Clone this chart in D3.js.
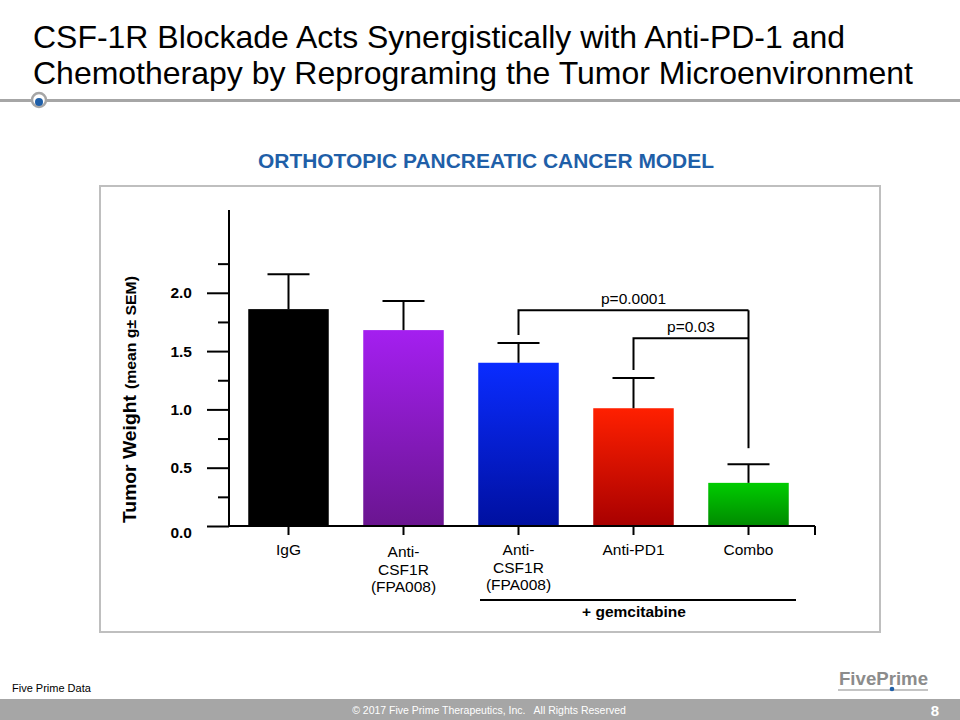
<!DOCTYPE html>
<html><head><meta charset="utf-8">
<script src="https://cdn.jsdelivr.net/npm/d3@7"></script>
<style>body{margin:0;background:#fff}svg{display:block;font-family:"Liberation Sans",Arial,sans-serif}</style>
</head><body><svg id="c" width="960" height="720"></svg>
<script>
const categories = ["IgG","Anti-CSF1R (FPA008)","Anti-CSF1R (FPA008) + gem","Anti-PD1","Combo"];
const labelLines = [["IgG"],["Anti-","CSF1R","(FPA008)"],["Anti-","CSF1R","(FPA008)"],["Anti-PD1"],["Combo"]];
const means = [1.86, 1.68, 1.40, 1.01, 0.37];
const sems = [0.30, 0.25, 0.17, 0.26, 0.16];
const topColors = ["#000000","#a41ff0","#0a2cff","#ff2000","#00cc00"];
const bottomColors = ["#000000","#6a1590","#0010a0","#a80000","#008a00"];
const yTicks = [0.0, 0.5, 1.0, 1.5, 2.0];
const yMinor = [0.25, 0.75, 1.25, 1.75, 2.25];
const comparisons = [{from:2,to:4,label:"p=0.0001",y:1.85},{from:3,to:4,label:"p=0.03",y:1.61}];

const FF = "Liberation Sans, Arial, sans-serif";
const svg = d3.select("#c");
// Title
svg.append("text").attr("x",33).attr("y",48).attr("font-size",31.5).attr("fill","#000").attr("textLength",812).attr("lengthAdjust","spacingAndGlyphs").text("CSF-1R Blockade Acts Synergistically with Anti-PD-1 and");
svg.append("text").attr("x",33).attr("y",84).attr("font-size",31.5).attr("fill","#000").attr("textLength",880).attr("lengthAdjust","spacingAndGlyphs").text("Chemotherapy by Reprograming the Tumor Microenvironment");
svg.append("rect").attr("x",0).attr("y",99).attr("width",960).attr("height",3).attr("fill","#a6a6a6");
svg.append("circle").attr("cx",39).attr("cy",100).attr("r",7).attr("fill","#fff").attr("stroke","#a6a6a6").attr("stroke-width",2.5);
svg.append("circle").attr("cx",39).attr("cy",102).attr("r",4).attr("fill","#1f5fa8");

// subtitle
svg.append("text").attr("x",486).attr("y",168).attr("text-anchor","middle").attr("font-size",20.5).attr("font-weight","bold").attr("fill","#1f5fa8").attr("textLength",456).attr("lengthAdjust","spacingAndGlyphs").text("ORTHOTOPIC PANCREATIC CANCER MODEL");

// frame
svg.append("rect").attr("x",100).attr("y",186).attr("width",780).attr("height",446).attr("fill","none").attr("stroke","#bfbfbf").attr("stroke-width",2);

const x = d3.scaleBand().domain(categories).range([231,806]).paddingInner(0.3).paddingOuter(0.15);
const y = d3.scaleLinear().domain([0,2.71]).range([526,210]);

// gradients
const defs = svg.append("defs");
categories.forEach((c,i)=>{
  const g = defs.append("linearGradient").attr("id","g"+i).attr("x1",0).attr("y1",0).attr("x2",0).attr("y2",1);
  g.append("stop").attr("offset","0%").attr("stop-color",topColors[i]);
  g.append("stop").attr("offset","100%").attr("stop-color",bottomColors[i]);
});

// bars
svg.selectAll("rect.bar").data(categories).join("rect").attr("class","bar")
  .attr("x",d=>x(d)).attr("width",x.bandwidth())
  .attr("y",(d,i)=>y(means[i])).attr("height",(d,i)=>y(0)-y(means[i]))
  .attr("fill",(d,i)=>"url(#g"+i+")");

// error bars
const eb = svg.append("g").attr("stroke","#000").attr("stroke-width",2);
categories.forEach((c,i)=>{
  const cx = x(c)+x.bandwidth()/2;
  eb.append("line").attr("x1",cx).attr("x2",cx).attr("y1",y(means[i])).attr("y2",y(means[i]+sems[i]));
  eb.append("line").attr("x1",cx-21).attr("x2",cx+21).attr("y1",y(means[i]+sems[i])).attr("y2",y(means[i]+sems[i]));
});

// y axis
const yAxis = d3.axisLeft(y).tickValues(yTicks).tickFormat(d3.format(".1f")).tickSize(22).tickPadding(15);
const ga = svg.append("g").attr("transform","translate(229,0)").call(yAxis);
ga.select(".domain").remove();
ga.selectAll(".tick line").attr("stroke","#000").attr("stroke-width",2);
ga.selectAll(".tick text").attr("font-size",15.5).attr("font-weight","bold").attr("fill","#000").attr("font-family",FF);
ga.selectAll(".tick").filter(d=>d===0).select("text").attr("dy","0.75em");
const gm = svg.append("g").attr("transform","translate(229,0)").call(d3.axisLeft(y).tickValues(yMinor).tickSize(11).tickFormat(""));
gm.select(".domain").remove();
gm.selectAll(".tick line").attr("stroke","#000").attr("stroke-width",2);
svg.append("line").attr("x1",229).attr("x2",229).attr("y1",210).attr("y2",527).attr("stroke","#000").attr("stroke-width",2);

// x axis
svg.append("line").attr("x1",228).attr("x2",815).attr("y1",526).attr("y2",526).attr("stroke","#000").attr("stroke-width",2);
svg.append("line").attr("x1",815).attr("x2",815).attr("y1",526).attr("y2",535).attr("stroke","#000").attr("stroke-width",2);
categories.forEach((c,i)=>{
  const cx = x(c)+x.bandwidth()/2;
  svg.append("line").attr("x1",cx).attr("x2",cx).attr("y1",526).attr("y2",535).attr("stroke","#000").attr("stroke-width",2);
  const base = i===1 ? 557 : 555;
  labelLines[i].forEach((t,j)=>{
    svg.append("text").attr("x",cx).attr("y",base+j*17.5).attr("text-anchor","middle").attr("font-size",15.5).attr("fill","#000").text(t);
  });
});

// y axis label
svg.append("text").attr("transform","translate(136,523) rotate(-90)").attr("font-weight","bold").attr("font-size",18).attr("fill","#000")
  .attr("textLength",128).attr("lengthAdjust","spacingAndGlyphs").text("Tumor Weight");
svg.append("text").attr("transform","translate(136,389) rotate(-90)").attr("font-weight","bold").attr("font-size",14).attr("fill","#000")
  .attr("textLength",113).attr("lengthAdjust","spacingAndGlyphs").text("(mean g± SEM)");

// significance brackets
const br = svg.append("g").attr("stroke","#000").attr("stroke-width",2).attr("fill","none");
comparisons.forEach(cmp=>{
  const x1 = x(categories[cmp.from])+x.bandwidth()/2;
  const x2 = x(categories[cmp.to])+x.bandwidth()/2;
  const yTop = y(cmp.y);
  const y1 = y(means[cmp.from]+sems[cmp.from]) - 8;
  br.append("path").attr("d",`M${x1},${y1}V${yTop}H${x2}`);
  svg.append("text").attr("x",(x1+x2)/2).attr("y",yTop-6).attr("text-anchor","middle").attr("font-size",15.5).attr("fill","#000").text(cmp.label);
});
br.append("line").attr("x1",x(categories[4])+x.bandwidth()/2).attr("x2",x(categories[4])+x.bandwidth()/2)
  .attr("y1",y(comparisons[0].y)).attr("y2",y(means[4]+sems[4])-16);

// gemcitabine bracket
svg.append("line").attr("x1",480).attr("x2",796).attr("y1",600).attr("y2",600).attr("stroke","#000").attr("stroke-width",2);
svg.append("text").attr("x",634).attr("y",617).attr("text-anchor","middle").attr("font-size",15.5).attr("font-weight","bold").attr("fill","#000").text("+ gemcitabine");

// footer
svg.append("text").attr("x",12).attr("y",692).attr("font-size",11).attr("fill","#000").text("Five Prime Data");
svg.append("rect").attr("x",0).attr("y",699).attr("width",960).attr("height",21).attr("fill","#a6a6a6");
svg.append("text").attr("x",489).attr("y",714).attr("text-anchor","middle").attr("font-size",10.5).attr("fill","#fff").attr("xml:space","preserve").text("© 2017 Five Prime Therapeutics, Inc.   All Rights Reserved");
svg.append("text").attr("x",935).attr("y",716).attr("text-anchor","middle").attr("font-size",15).attr("font-weight","bold").attr("fill","#fff").text("8");
// logo
svg.append("text").attr("x",839).attr("y",685).attr("font-size",19).attr("font-weight","bold").attr("fill","#8c8c8c").attr("textLength",89).attr("lengthAdjust","spacingAndGlyphs").text("FivePrime");
svg.append("line").attr("x1",838).attr("x2",928).attr("y1",690).attr("y2",690).attr("stroke","#b0b0b0").attr("stroke-width",1.5);
svg.append("circle").attr("cx",892).attr("cy",689).attr("r",2.3).attr("fill","#1f5fa8");
</script></body></html>
